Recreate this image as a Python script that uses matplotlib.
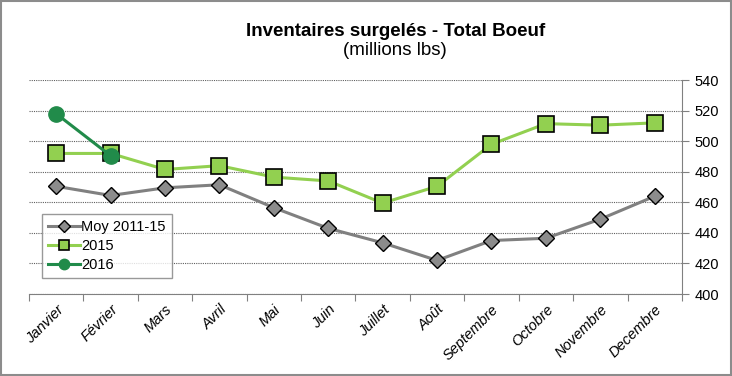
import matplotlib.pyplot as plt
from matplotlib.patches import Rectangle

plt.rcParams['font.family'] = ['Liberation Sans', 'DejaVu Sans']

months = ['Janvier', 'Février', 'Mars', 'Avril', 'Mai', 'Juin', 'Juillet',
          'Août', 'Septembre', 'Octobre', 'Novembre', 'Decembre']
moy = [470.5, 464.5, 469.5, 471.5, 456.5, 443, 433.5, 422, 435, 436.5, 449, 464]
y2015 = [492, 492, 481.5, 484, 476.5, 474, 459.5, 470.5, 498, 511.5, 510.5, 512]
y2016 = [518, 490.5]
yticks = [400, 420, 440, 460, 480, 500, 520, 540]

fig = plt.figure(figsize=(7.32, 3.76), dpi=100)
ax = fig.add_axes([0.0396, 0.218, 0.892, 0.569])

x = list(range(len(months)))
ax.plot(x, moy, color='#808080', lw=2.2, marker='D', ms=8, mfc='#8c8c8c',
        mec='black', mew=1, label='Moy 2011-15', zorder=3)
ax.plot(x, y2015, color='#92d050', lw=2.2, marker='s', ms=11, mfc='#92d050',
        mec='black', mew=1.2, label='2015', zorder=3)
ax.plot(x[:len(y2016)], y2016, color='#218b4a', lw=2.2, marker='o', ms=11,
        mfc='#218b4a', mec='#218b4a', label='2016', zorder=4)

ax.set_xlim(-0.5, 11.5)
ax.set_ylim(400, 540)
ax.set_yticks(yticks)
ax.yaxis.tick_right()
ax.yaxis.grid(True, ls=(0, (1, 1)), color='#606060', lw=0.8)
ax.set_axisbelow(True)
ax.set_xticks([i - 0.5 for i in range(13)], minor=False)
ax.set_xticklabels([])
ax.set_xticks(x, minor=True)
ax.set_xticklabels(months, minor=True, rotation=45, ha='right',
                   rotation_mode='anchor', style='italic', fontsize=10.5)
ax.tick_params(axis='x', which='minor', length=0, pad=6)
ax.tick_params(axis='x', which='major', length=5, color='#808080', direction='out')
ax.tick_params(axis='y', length=5, color='#808080', labelsize=10.5, pad=4)
for s in ['top', 'left']:
    ax.spines[s].set_visible(False)
ax.spines['bottom'].set_color('#808080')
ax.spines['right'].set_color('#808080')

leg = ax.legend(loc='lower left', bbox_to_anchor=(0.02, 0.075), fontsize=10.5,
                frameon=True, fancybox=False, handlelength=2.2,
                borderpad=0.4, labelspacing=0.35, handletextpad=0.1,
                borderaxespad=0)
leg.get_frame().set_edgecolor('#808080')
leg.get_frame().set_linewidth(1)
for h, ms in zip(leg.legend_handles, [6, 7.5, 7.5]):
    h.set_markersize(ms)

fig.text(0.54, 0.915, 'Inventaires surgelés - Total Boeuf', ha='center',
         va='center', fontsize=13.5, fontweight='bold')
fig.text(0.54, 0.866, '(millions lbs)', ha='center', va='center', fontsize=13.5)

fig.patches.append(Rectangle((0.001, 0.002), 0.997, 0.995, transform=fig.transFigure,
                             fill=False, edgecolor='#8c8c8c', lw=1.5))

fig.savefig('out.png', dpi=100)
